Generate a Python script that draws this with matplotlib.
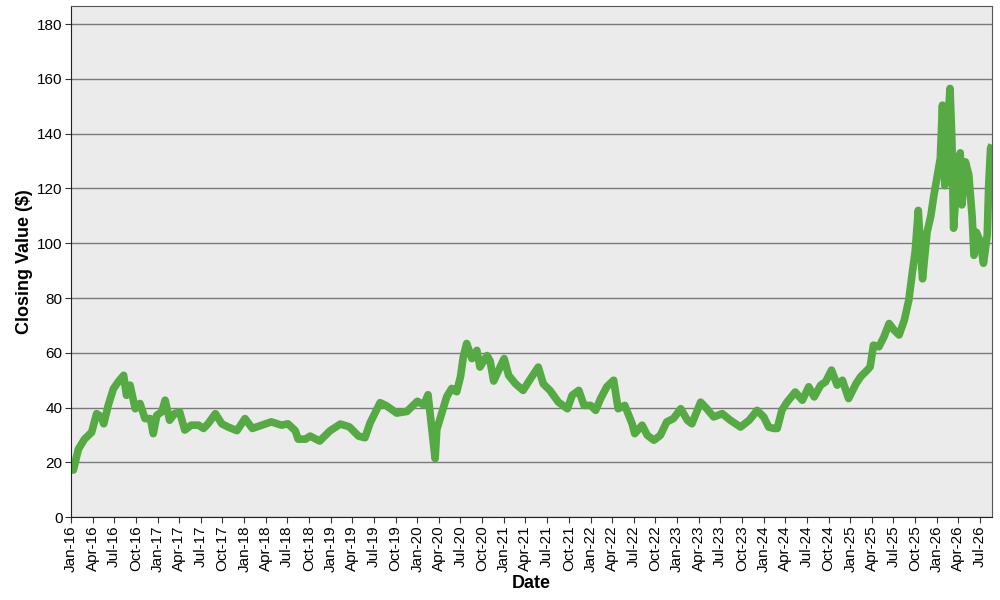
import pandas as pd
import matplotlib
matplotlib.use("Agg")
import matplotlib.pyplot as plt
import matplotlib.dates as mdates

plt.rcParams['font.family'] = ['Liberation Sans', 'DejaVu Sans']

# Closing values
dates = [
    "2016-01-04", "2016-01-11", "2016-02-01", "2016-02-27", "2016-03-28", "2016-04-18",
    "2016-05-08", "2016-05-18", "2016-06-06", "2016-06-28", "2016-07-18", "2016-08-10",
    "2016-08-22", "2016-09-06", "2016-09-28", "2016-10-18", "2016-11-08", "2016-12-01",
    "2016-12-13", "2016-12-28", "2017-01-18", "2017-02-01", "2017-02-20", "2017-03-13",
    "2017-04-03", "2017-04-25", "2017-05-22", "2017-06-22", "2017-07-13", "2017-08-01",
    "2017-09-01", "2017-09-28", "2017-10-25", "2017-12-01", "2018-01-04", "2018-02-04",
    "2018-03-16", "2018-04-25", "2018-06-07", "2018-07-04", "2018-08-04", "2018-08-16",
    "2018-09-16", "2018-10-06", "2018-11-15", "2018-12-28", "2019-02-10", "2019-03-20",
    "2019-04-28", "2019-05-25", "2019-06-16", "2019-07-28", "2019-08-25", "2019-10-06",
    "2019-11-18", "2020-01-01", "2020-01-28", "2020-02-15", "2020-02-25", "2020-03-16",
    "2020-03-23", "2020-04-13", "2020-05-04", "2020-05-25", "2020-06-15", "2020-07-01",
    "2020-07-13", "2020-07-27", "2020-08-18", "2020-09-08", "2020-09-21", "2020-10-21",
    "2020-11-03", "2020-11-18", "2020-12-15", "2021-01-01", "2021-01-20", "2021-02-18",
    "2021-03-22", "2021-04-22", "2021-05-25", "2021-06-15", "2021-07-13", "2021-08-18",
    "2021-09-25", "2021-10-15", "2021-11-12", "2021-12-04", "2022-01-01", "2022-01-22",
    "2022-02-12", "2022-03-10", "2022-04-08", "2022-04-27", "2022-05-25", "2022-06-25",
    "2022-07-06", "2022-08-06", "2022-08-28", "2022-09-25", "2022-10-22", "2022-11-18",
    "2022-12-16", "2023-01-16", "2023-02-13", "2023-03-04", "2023-04-10", "2023-05-06",
    "2023-06-04", "2023-07-10", "2023-08-13", "2023-09-25", "2023-11-01", "2023-12-04",
    "2024-01-01", "2024-01-22", "2024-02-12", "2024-02-27", "2024-03-18", "2024-04-09",
    "2024-05-13", "2024-06-12", "2024-07-09", "2024-08-01", "2024-08-28", "2024-09-18",
    "2024-10-13", "2024-11-06", "2024-11-28", "2024-12-24", "2025-01-25", "2025-02-13",
    "2025-03-13", "2025-03-25", "2025-04-08", "2025-05-01", "2025-05-22", "2025-06-13",
    "2025-07-04", "2025-07-25", "2025-08-16", "2025-09-04", "2025-09-20", "2025-10-01",
    "2025-10-14", "2025-10-22", "2025-11-01", "2025-11-20", "2025-12-06", "2025-12-18",
    "2026-01-03", "2026-01-15", "2026-01-24", "2026-02-03", "2026-02-15", "2026-02-25",
    "2026-03-05", "2026-03-12", "2026-03-27", "2026-04-09", "2026-04-16", "2026-05-01",
    "2026-05-15", "2026-05-29", "2026-06-06", "2026-06-16", "2026-07-03", "2026-07-16",
    "2026-08-01", "2026-08-07", "2026-08-15", "2026-08-21",
]
closing = [
    19.6, 17.2, 24.8, 28.5, 31.0, 37.8,
    36.6, 34.1, 40.8, 46.9, 49.4, 51.8,
    44.5, 48.2, 39.6, 41.5, 36.0, 36.0,
    30.5, 37.2, 38.5, 42.7, 35.4, 37.8,
    38.5, 31.8, 33.6, 33.6, 32.4, 34.1,
    37.8, 34.1, 32.9, 31.6, 36.0, 32.4,
    33.6, 34.8, 33.6, 34.1, 31.6, 28.5,
    28.5, 29.6, 27.8, 31.5, 34.0, 33.0,
    29.6, 29.0, 34.5, 41.8, 40.6, 38.0,
    38.6, 42.3, 41.0, 44.7, 36.9, 21.4,
    32.0, 38.0, 44.0, 47.0, 45.8, 51.3,
    58.6, 63.4, 57.9, 60.9, 54.8, 59.0,
    57.0, 49.7, 54.8, 57.9, 51.8, 48.7,
    46.3, 50.5, 54.8, 48.7, 46.3, 42.0,
    39.6, 44.5, 46.3, 40.8, 40.8, 39.0,
    43.3, 47.6, 50.0, 39.6, 40.8, 34.1,
    30.5, 33.6, 29.9, 28.1, 29.9, 34.8,
    36.0, 39.6, 35.4, 34.1, 42.0, 39.6,
    36.6, 37.8, 35.4, 32.9, 35.4, 39.0,
    36.6, 32.9, 32.4, 32.4, 39.1, 42.1,
    45.7, 42.7, 47.6, 43.9, 48.2, 49.4,
    53.7, 48.2, 50.0, 43.3, 48.8, 51.3,
    53.7, 54.9, 62.8, 62.2, 65.8, 70.7,
    68.3, 66.5, 71.9, 79.2, 90.0, 97.0,
    112.0, 100.0, 87.0, 104.0, 110.0, 117.0,
    125.0, 131.0, 150.4, 121.0, 143.0, 156.5,
    137.0, 105.5, 125.0, 133.0, 114.0, 129.7,
    125.0, 110.0, 95.6, 104.0, 100.5, 92.7,
    103.0, 121.0, 134.6, 136.0,
]

dates = pd.to_datetime(dates)
ytick_values = list(range(0, 181, 20))

fig = plt.figure(figsize=(10, 6), dpi=100)
ax = fig.add_axes([0.071, 0.138, 0.921, 0.852])
ax.set_facecolor('#ebebeb')

ax.plot(dates, closing, color='#55aa44', linewidth=5.5,
        solid_joinstyle='round', solid_capstyle='butt')

ax.set_ylim(0, 186.6)
ax.set_xlim(pd.Timestamp("2016-01-01"), dates[-1])
ax.set_yticks(ytick_values)
ax.yaxis.grid(True, color='#7a7a7a', linewidth=1)
ax.set_axisbelow(True)

ax.xaxis.set_major_locator(mdates.MonthLocator(bymonth=[1, 4, 7, 10]))
ax.xaxis.set_major_formatter(mdates.DateFormatter('%b-%y'))
plt.setp(ax.get_xticklabels(), rotation=90)
ax.tick_params(axis='both', labelsize=11, length=4, direction='out', color='#333333', pad=2)

for side in ['left', 'bottom']:
    ax.spines[side].set_color('#222222')
for side in ['top', 'right']:
    ax.spines[side].set_color('#555555')

ax.set_xlabel('Date', fontsize=13, fontweight='bold', labelpad=2)
ax.set_ylabel('Closing Value ($)', fontsize=13, fontweight='bold', labelpad=3)

fig.savefig('out.png', dpi=100)
